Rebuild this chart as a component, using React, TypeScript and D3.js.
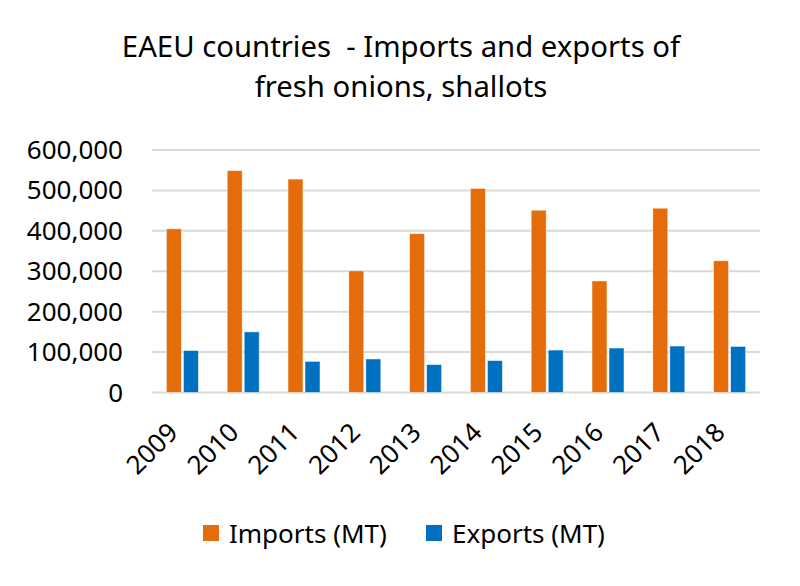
import React from "react";
import * as d3 from "d3";

const years = ["2009", "2010", "2011", "2012", "2013", "2014", "2015", "2016", "2017", "2018"];
const imports = [405000, 549000, 528000, 301000, 393000, 505000, 451000, 276000, 456000, 326000];
const exportsMT = [104000, 150000, 77000, 83000, 69000, 79000, 105000, 110000, 115000, 114000];
const seriesNames = ["Imports (MT)", "Exports (MT)"];
const seriesColors = ["#E46C0A", "#0070C0"];
const yTicks = [0, 100000, 200000, 300000, 400000, 500000, 600000];
const titleLines = ["EAEU countries  - Imports and exports of", "fresh onions, shallots"];

const W = 800;
const H = 586;
const FONT = "'Noto Sans', sans-serif";

export default function App() {
  const left = 152, right = 760, top = 150, bottom = 392.5;
  const x0 = d3.scaleBand<string>().domain(years).range([left, right]).padding(0);
  const x1 = d3.scaleBand<string>().domain(seriesNames).range([0, 32]).paddingInner(0.12);
  const y = d3.scaleLinear().domain([0, 600000]).range([bottom, top]);
  const fmt = d3.format(",");
  const data = [imports, exportsMT];

  return (
    <svg width={W} height={H} style={{ position: "absolute", left: 0, top: 0, background: "#fff" }}>
      <rect x={0} y={0} width={W} height={H} fill="#fff" />
      {titleLines.map((t, i) => (
        <text
          key={i}
          x={401}
          y={57 + i * 40}
          textAnchor="middle"
          fontFamily={FONT}
          fontSize={29.3}
          fill="#000"
          style={{ whiteSpace: "pre" }}
          xmlSpace="preserve"
        >
          {t}
        </text>
      ))}
      {yTicks.map((v) => (
        <g key={v}>
          <line x1={left} x2={right} y1={y(v)} y2={y(v)} stroke="#D9D9D9" strokeWidth={2} />
          <text x={123} y={y(v) + 9} textAnchor="end" fontFamily={FONT} fontSize={26} fill="#000">
            {fmt(v)}
          </text>
        </g>
      ))}
      {years.map((yr, i) => {
        const cx = (x0(yr) as number) + x0.bandwidth() / 2;
        return (
          <g key={yr}>
            {seriesNames.map((s, si) => {
              const v = data[si][i];
              const bx = cx - 16 + (x1(s) as number);
              return (
                <rect
                  key={s}
                  x={bx}
                  y={y(v)}
                  width={x1.bandwidth()}
                  height={y(0) - y(v)}
                  fill={seriesColors[si]}
                  stroke="#fff"
                  strokeOpacity={0.6}
                  strokeWidth={0.8}
                />
              );
            })}
            <text
              transform={`translate(${cx - 3},${434}) rotate(-45)`}
              textAnchor="end"
              fontFamily={FONT}
              fontSize={26}
              fill="#000"
            >
              {yr}
            </text>
          </g>
        );
      })}
      {seriesNames.map((s, si) => {
        const lx = si === 0 ? 203 : 426;
        return (
          <g key={s}>
            <rect x={lx} y={525} width={16} height={16} fill={seriesColors[si]} />
            <text x={lx + 26} y={543} fontFamily={FONT} fontSize={26} fill="#000">
              {s}
            </text>
          </g>
        );
      })}
    </svg>
  );
}
